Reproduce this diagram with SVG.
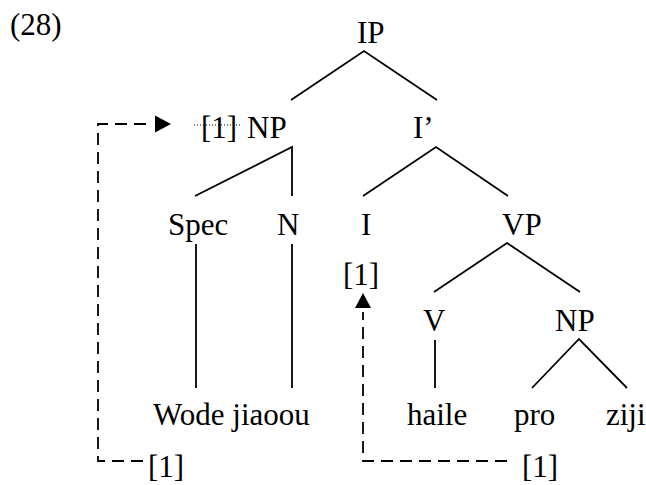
<svg xmlns="http://www.w3.org/2000/svg" width="646" height="485" viewBox="0 0 646 485">
  <style>
    text { font-family: "Liberation Serif", "Times New Roman", serif; font-size: 31px; fill: #000; }
    .branch { stroke: #000; stroke-width: 1.8; fill: none; }
    .dash { stroke: #000; stroke-width: 1.8; fill: none; stroke-dasharray: 12 7; }
    .dot { stroke: #000; stroke-width: 1; fill: none; stroke-dasharray: 1 2; }
  </style>
  <rect width="646" height="485" fill="#fff"/>

  <text id="example-number" x="10" y="35">(28)</text>

  <!-- tree branches -->
  <g id="connectors">
    <path class="branch" d="M291,100 L364,51 L437,100"/>
    <path class="branch" d="M195,196 L292,147 L292,196"/>
    <path class="branch" d="M363,196 L436,147 L508,196"/>
    <path class="branch" d="M434,292 L507,243 L580,292"/>
    <path class="branch" d="M532,388 L579,339 L627,388"/>
    <line class="branch" x1="196" y1="244" x2="196" y2="388"/>
    <line class="branch" x1="292" y1="244" x2="292" y2="388"/>
    <line class="branch" x1="435" y1="340" x2="435" y2="388"/>
    <!-- movement arrows -->
    <polyline class="dash" points="143,461 98,461 98,124 150,124"/>
    <path d="M155,115.5 L171,124 L155,132.5 Z" fill="#000"/>
    <polyline class="dash" points="507,461 363,461 363,312"/>
    <path d="M355,308 L363,293 L371,308 Z" fill="#000"/>
    <line class="dot" x1="194" y1="125" x2="240" y2="125"/>
  </g>

  <g id="IP"><text x="357" y="43">IP</text></g>
  <g id="NP-subject"><text x="201" y="138">[1]<tspan x="247">NP</tspan></text></g>
  <g id="I-bar"><text x="413" y="138">I’</text></g>
  <g id="Spec"><text x="168" y="235">Spec</text></g>
  <g id="N"><text x="277" y="235">N</text></g>
  <g id="I"><text x="361" y="235">I</text></g>
  <g id="I-index"><text x="343" y="285">[1]</text></g>
  <g id="VP"><text x="502" y="235">VP</text></g>
  <g id="V"><text x="423" y="331">V</text></g>
  <g id="NP-object"><text x="555" y="331">NP</text></g>
  <g id="Wode-jiaoou"><text x="153" y="425">Wode jiaoou</text></g>
  <g id="haile"><text x="407" y="425">haile</text></g>
  <g id="pro"><text x="514" y="425">pro</text></g>
  <g id="ziji"><text x="606" y="425">ziji</text></g>
  <g id="trace-subject"><text x="148" y="477">[1]</text></g>
  <g id="trace-object"><text x="522" y="477">[1]</text></g>
</svg>
